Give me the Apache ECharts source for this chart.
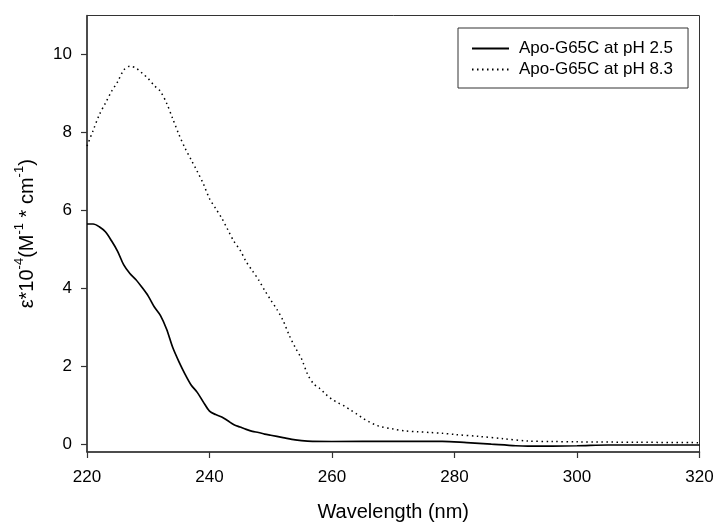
<!DOCTYPE html>
<html>
<head>
<meta charset="utf-8">
<script src="https://cdn.jsdelivr.net/npm/echarts@6/dist/echarts.min.js"></script>
<style>html,body{margin:0;padding:0;background:#fff}#c{width:715px;height:523px}</style>
</head>
<body>
<div id="c"></div>
<script>
// Data
const seriesNames = ['Apo-G65C at pH 2.5', 'Apo-G65C at pH 8.3'];
const wlPH25 = [220,221,222,223,224,225,226,227,228,229,230,231,232,233,234,235,236,237,238,239,240,241,242,243,244,245,246,247,248,249,250,252,254,256,260,270,278,282,286,290,292,300,305,320];
const epsPH25 = [5.65,5.65,5.58,5.45,5.22,4.95,4.6,4.38,4.22,4.02,3.8,3.52,3.3,2.95,2.48,2.12,1.8,1.52,1.33,1.08,0.85,0.76,0.70,0.6,0.5,0.44,0.38,0.33,0.30,0.26,0.23,0.17,0.11,0.08,0.07,0.075,0.075,0.04,0.0,-0.04,-0.05,-0.04,-0.02,-0.02];
const wlPH83 = [220,221,222,223,224,225,226,227,228,229,230,231,232,233,234,235,236,237,238,239,240,241,242,243,244,245,246,247,248,249,250,251,252,253,254,255,256,257,258,259,260,261,262,263,264,265,266,267,268,270,272,274,276,278,280,284,288,292,296,300,310,320];
const epsPH83 = [7.65,8.05,8.45,8.75,9.05,9.3,9.6,9.7,9.65,9.52,9.38,9.2,9.05,8.75,8.35,7.95,7.6,7.3,7.0,6.68,6.3,6.05,5.8,5.5,5.2,4.98,4.68,4.45,4.22,3.95,3.7,3.46,3.18,2.8,2.48,2.2,1.8,1.55,1.43,1.28,1.15,1.06,0.98,0.88,0.78,0.67,0.58,0.5,0.45,0.39,0.34,0.32,0.30,0.28,0.25,0.2,0.14,0.08,0.07,0.06,0.05,0.04];
const xTicks = [220,240,260,280,300,320];
const yTicks = [0,2,4,6,8,10];

const pairs = (xs, ys) => xs.map((x, i) => [x, ys[i]]);
const FONT = '"Liberation Sans", Arial, sans-serif';

const chart = echarts.init(document.getElementById('c'), null, {renderer: 'canvas'});
chart.setOption({
  animation: false,
  backgroundColor: '#fff',
  grid: {left: 87, right: 15.5, top: 15.5, bottom: 71, show: true, borderColor: '#333', borderWidth: 1, containLabel: false, outerBoundsMode: 'none'},
  legend: {
    orient: 'vertical', left: 458, top: 28,
    data: seriesNames,
    borderColor: '#333', borderWidth: 1, padding: [12, 15, 10, 13],
    itemWidth: 37, itemHeight: 14, itemGap: 4,
    itemStyle: {opacity: 0},
    textStyle: {fontFamily: FONT, fontSize: 17, color: '#000', padding: [0, 0, 0, 5]}
  },
  xAxis: {
    type: 'value', min: 220, max: 320, interval: 20,
    name: 'Wavelength (nm)', nameLocation: 'middle', nameGap: 50,
    nameTextStyle: {fontFamily: FONT, fontSize: 20, color: '#000'},
    axisLine: {onZero: false, lineStyle: {color: '#333', width: 1.5}},
    axisTick: {show: true, inside: false, length: 6, lineStyle: {color: '#333', width: 1.2}},
    axisLabel: {fontFamily: FONT, fontSize: 17, color: '#000', margin: 17, customValues: xTicks},
    splitLine: {show: false}
  },
  yAxis: {
    type: 'value', min: -0.2, max: 11,
    name: '{a|ε*10}{s|-4}{a|(M}{s|-1}{a| * cm}{s|-1}{a|)}',
    nameLocation: 'middle', nameGap: 50, nameRotate: 90,
    nameTextStyle: {
      fontFamily: FONT, color: '#000',
      rich: {
        a: {fontFamily: FONT, fontSize: 20, color: '#000', lineHeight: 24, verticalAlign: 'bottom'},
        s: {fontFamily: FONT, fontSize: 13, color: '#000', lineHeight: 24, verticalAlign: 'top', padding: [0, 0, 8, 0]}
      }
    },
    axisLine: {onZero: false, lineStyle: {color: '#333', width: 1.5}},
    axisTick: {show: true, inside: false, length: 6, customValues: yTicks, lineStyle: {color: '#333', width: 1.2}},
    axisLabel: {fontFamily: FONT, fontSize: 17, color: '#000', margin: 15, customValues: yTicks},
    splitLine: {show: false}
  },
  series: [
    {
      name: seriesNames[0], type: 'line', data: pairs(wlPH25, epsPH25),
      showSymbol: false, symbol: 'none', smooth: 0.3,
      lineStyle: {color: '#000', width: 1.7, type: 'solid'},
      itemStyle: {color: '#000'}
    },
    {
      name: seriesNames[1], type: 'line', data: pairs(wlPH83, epsPH83),
      showSymbol: false, symbol: 'none', smooth: 0.3,
      lineStyle: {color: '#000', width: 1.5, type: [1.5, 3.5]},
      itemStyle: {color: '#000'}
    }
  ]
});
</script>
</body>
</html>
